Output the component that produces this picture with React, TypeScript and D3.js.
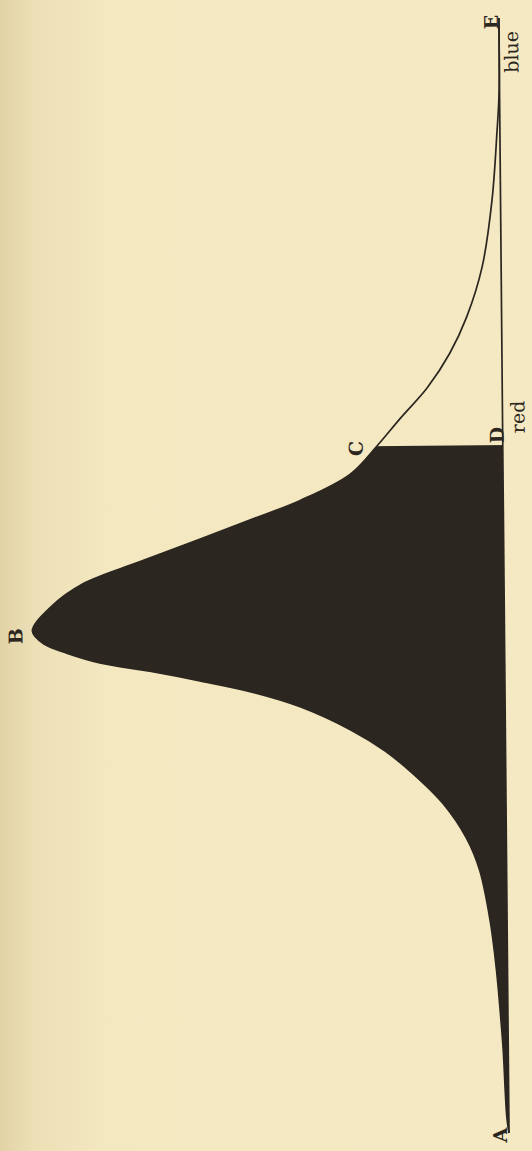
import React, { useEffect, useRef } from "react";
import * as d3 from "d3";

// position along the spectrum (A = 0 at the red end, E = 100 at the blue end)
const position = [0, 1.4, 7.4, 10.1, 14.6, 19.1, 23.6, 26.5, 29.6, 32.4, 34.4, 36.3, 38.4, 39.8, 40.8, 41.7, 42.5, 43.4, 44.2, 45.4, 47.5, 49.6, 51.5, 53.5, 55.2, 56.9, 59.2, 61.7, 64.2, 66.9, 70.0, 73.2, 77.7, 83.7, 89.7, 93.3, 100];
// height of the curve above the base line
const energy = [0, 2, 5, 7, 11, 17, 27, 40, 63, 94, 121, 155, 205, 255, 305, 355, 405, 438, 460, 472, 454, 421, 365, 304, 253, 203, 153, 126, 102, 75, 52, 35, 19, 8.5, 3, 0.5, 0];

const cutAt = 61.7; // C / D, where the shaded part stops

const letters = [
  { name: "A", p: 0, dx: -2, y: -9 },
  { name: "B", p: 45.4, dx: -5, y: -489 },
  { name: "C", p: cutAt, dx: -2, y: -147 },
  { name: "D", p: cutAt, dx: 10, y: -6 },
  { name: "E", p: 100, dx: -4, y: -8 },
];
const colourWords = [
  { name: "red", p: cutAt, dx: 28, y: 15 },
  { name: "blue", p: 100, dx: -34, y: 12 },
];

const W = 532, H = 1151;

const App = () => {
  const svgRef = useRef<SVGSVGElement>(null);

  useEffect(() => {
    document.body.style.margin = "0";
    const svg = d3.select(svgRef.current);
    svg.selectAll("*").remove();

    const defs = svg.append("defs");
    const grad = defs.append("linearGradient").attr("id", "paper")
      .attr("x1", "0%").attr("x2", "100%").attr("y1", "0%").attr("y2", "0%");
    grad.append("stop").attr("offset", "0%").attr("stop-color", "#e2d2a6");
    grad.append("stop").attr("offset", "6%").attr("stop-color", "#ecdfb5");
    grad.append("stop").attr("offset", "20%").attr("stop-color", "#f4e8c1");
    grad.append("stop").attr("offset", "100%").attr("stop-color", "#f5e9c3");

    svg.append("rect").attr("width", W).attr("height", H).attr("fill", "url(#paper)");

    const len = 1115;
    const xScale = d3.scaleLinear().domain([0, 100]).range([0, len]);
    const yScale = d3.scaleLinear().domain([0, 500]).range([0, -500]);

    const data = position.map((p, i) => ({ p, e: energy[i] }));

    // the figure is printed sideways: base line runs from A (bottom) up to E
    const g = svg.append("g").attr("transform", "translate(509,1133) rotate(-90.52)");

    defs.append("clipPath").attr("id", "cut")
      .append("rect")
      .attr("x", -5).attr("y", -520)
      .attr("width", xScale(cutAt) + 5).attr("height", 530);

    const curve = d3.curveCatmullRom.alpha(0.5);
    const area = d3.area<{ p: number; e: number }>()
      .x(d => xScale(d.p)).y0(yScale(0)).y1(d => yScale(d.e))
      .curve(curve);
    const line = d3.line<{ p: number; e: number }>()
      .x(d => xScale(d.p)).y(d => yScale(d.e))
      .curve(curve);

    g.append("path").datum(data).attr("d", area)
      .attr("clip-path", "url(#cut)")
      .attr("fill", "#2b2620");

    g.append("path").datum(data).attr("d", line)
      .attr("fill", "none").attr("stroke", "#2b2620").attr("stroke-width", 1.7);

    g.append("line")
      .attr("x1", xScale(0)).attr("x2", xScale(100))
      .attr("y1", yScale(0)).attr("y2", yScale(0))
      .attr("stroke", "#2b2620").attr("stroke-width", 1.7);

    g.selectAll(".letter").data(letters).enter().append("text")
      .attr("x", d => xScale(d.p) + d.dx).attr("y", d => d.y)
      .attr("text-anchor", "middle").attr("dominant-baseline", "central")
      .attr("font-family", "'DejaVu Serif', 'Liberation Serif', serif")
      .attr("font-weight", "bold").attr("font-size", 19)
      .attr("fill", "#2b2620")
      .text(d => d.name);

    g.selectAll(".word").data(colourWords).enter().append("text")
      .attr("x", d => xScale(d.p) + d.dx).attr("y", d => d.y)
      .attr("text-anchor", "middle").attr("dominant-baseline", "central")
      .attr("font-family", "'DejaVu Serif', 'Liberation Serif', serif")
      .attr("font-size", 19)
      .attr("fill", "#2b2620")
      .text(d => d.name);
  }, []);

  return <svg ref={svgRef} width={W} height={H} style={{ display: "block" }}></svg>;
};

export default App;
